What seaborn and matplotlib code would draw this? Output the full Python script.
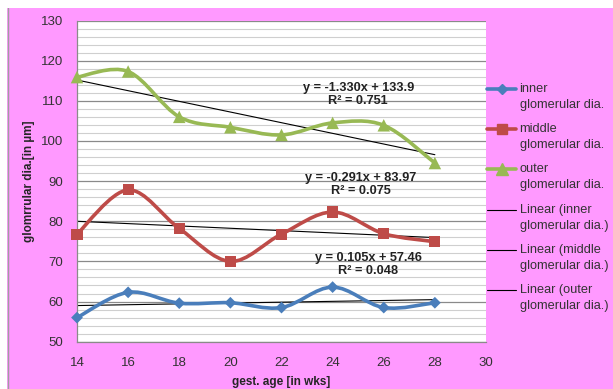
import numpy as np
import pandas as pd
import matplotlib
matplotlib.use("Agg")
import matplotlib.pyplot as plt
import seaborn as sns
from matplotlib.path import Path
from matplotlib.patches import PathPatch, Rectangle
from matplotlib.lines import Line2D
from matplotlib.legend_handler import HandlerLine2D
from matplotlib.transforms import Affine2D

# -----------------------------
# Data
# -----------------------------
weeks = [14, 16, 18, 20, 22, 24, 26, 28]
inner = [56.0, 62.3, 59.6, 59.7, 58.5, 63.6, 58.5, 59.7]
middle = [76.8, 87.8, 78.2, 70.0, 76.8, 82.3, 76.9, 74.9]
outer = [115.9, 117.3, 106.0, 103.4, 101.5, 104.5, 103.9, 94.5]

series_names = ["inner\nglomerular dia.", "middle\nglomerular dia.", "outer\nglomerular dia."]
trend_names = ["Linear (inner\nglomerular dia.)", "Linear (middle\nglomerular dia.)",
               "Linear (outer\nglomerular dia.)"]
equations = ["y = 0.105x + 57.46\nR² = 0.048",
             "y = -0.291x + 83.97\nR² = 0.075",
             "y = -1.330x + 133.9\nR² = 0.751"]
colors = ["#4A7EBB", "#BE4B48", "#98B954"]
markers = ["D", "s", "^"]
msizes = [6, 8, 9]
label_pos = [(25.4, 69.2), (25.1, 89.1), (25.0, 111.6)]

df = pd.DataFrame({
    "week": weeks * 3,
    "value": inner + middle + outer,
    "series": sum([[n] * len(weeks) for n in series_names], []),
})

sns.set_style("white")
plt.rcParams["font.family"] = ["Liberation Sans", "DejaVu Sans"]

fig = plt.figure(figsize=(6.13, 3.89), dpi=100)
fig.patch.set_facecolor("#FF99FF")
# white strips at top and left, thin grey border line
fig.patches.append(Rectangle((0, 1 - 8 / 389), 1, 8 / 389, transform=fig.transFigure,
                             facecolor="white", edgecolor="none", zorder=-1))
fig.patches.append(Rectangle((0, 0), 7 / 613, 1, transform=fig.transFigure,
                             facecolor="white", edgecolor="none", zorder=-1))
fig.lines.append(Line2D([7.5 / 613, 7.5 / 613], [0, 1 - 8 / 389], transform=fig.transFigure,
                        color="#a0a0a0", lw=1, zorder=-1))

ax = fig.add_axes([77 / 613, 1 - 341.7 / 389, 409 / 613, 321.2 / 389])
ax.set_facecolor("white")


def smooth_path(xs, ys):
    # Excel-style smoothed line: cubic bezier through the points
    pts = np.column_stack([xs, ys]).astype(float)
    n = len(pts)
    verts = [pts[0]]
    codes = [Path.MOVETO]
    for i in range(n - 1):
        p0 = pts[max(i - 1, 0)]
        p1 = pts[i]
        p2 = pts[i + 1]
        p3 = pts[min(i + 2, n - 1)]
        c1 = p1 + (p2 - p0) / 6
        c2 = p2 - (p3 - p1) / 6
        verts += [c1, c2, p2]
        codes += [Path.CURVE4] * 3
    return Path(verts, codes)


class TopLineHandler(HandlerLine2D):
    # put the legend key level with the first line of a two-line label
    def create_artists(self, legend, orig_handle, xdescent, ydescent, width, height,
                       fontsize, trans):
        arts = super().create_artists(legend, orig_handle, xdescent, ydescent, width,
                                      height, fontsize, trans)
        for a in arts:
            a.set_transform(trans + Affine2D().translate(0, 8))
        return arts


handles = []
for name, vals, c, m, ms in zip(series_names, [inner, middle, outer], colors, markers, msizes):
    ax.add_patch(PathPatch(smooth_path(weeks, vals), facecolor="none", edgecolor=c,
                           lw=2.6, zorder=3, clip_on=False))
    handles.append(Line2D([], [], color=c, lw=2.6, marker=m, markersize=ms - 1))

sns.scatterplot(data=df, x="week", y="value", hue="series", style="series",
                palette=dict(zip(series_names, colors)),
                markers=dict(zip(series_names, markers)),
                size="series", sizes=dict(zip(series_names, [m ** 2 for m in msizes])),
                edgecolor="none", legend=False, zorder=4, clip_on=False, ax=ax)

# linear trend lines
for vals, (tx, ty), txt in zip([inner, middle, outer], label_pos, equations):
    slope, icpt = np.polyfit(weeks, vals, 1)
    xs = np.array([weeks[0], weeks[-1]])
    ax.plot(xs, slope * xs + icpt, color="black", lw=0.8, zorder=2)
    ax.text(tx, ty, txt, ha="center", va="center", fontsize=9.2, fontweight="bold",
            color="#222222", linespacing=1.1, zorder=5)

for name in trend_names:
    handles.append(Line2D([], [], color="black", lw=0.8))

ax.set_xlim(14, 30)
ax.set_ylim(50, 130)
ax.set_xticks(range(14, 31, 2))
ax.set_yticks(range(50, 131, 10))
ax.set_yticks(range(50, 131, 2), minor=True)
ax.grid(which="major", axis="y", color="#8a8a8a", lw=0.9)
ax.grid(which="minor", axis="y", color="#cfcfcf", lw=0.8)
ax.set_axisbelow(True)
for s in ["top", "right"]:
    ax.spines[s].set_visible(False)
for s in ["left", "bottom"]:
    ax.spines[s].set_color("#8a8a8a")
    ax.spines[s].set_linewidth(0.9)
ax.tick_params(axis="both", which="major", length=4, color="#8a8a8a", labelsize=9.5,
               labelcolor="#333333", direction="out")
ax.tick_params(axis="y", which="minor", length=0)
ax.tick_params(axis="x", pad=7)
ax.tick_params(axis="y", pad=6)

ax.set_xlabel("gest. age [in wks]", fontsize=8.5, fontweight="bold", labelpad=5)
ax.set_ylabel("glomrrular dia.[in µm]", fontsize=8.5, fontweight="bold", labelpad=4)

leg = fig.legend(handles, series_names + trend_names, loc="upper left",
                 bbox_to_anchor=(487 / 613, 1 - 83 / 389), frameon=False, fontsize=9.2,
                 handlelength=2.3, handletextpad=0.25, labelspacing=0.95, borderpad=0,
                 borderaxespad=0, labelcolor="#333333",
                 handler_map={Line2D: TopLineHandler()})
for t in leg.get_texts():
    t.set_linespacing(1.45)

fig.savefig("out.png", dpi=100, facecolor=fig.get_facecolor())
